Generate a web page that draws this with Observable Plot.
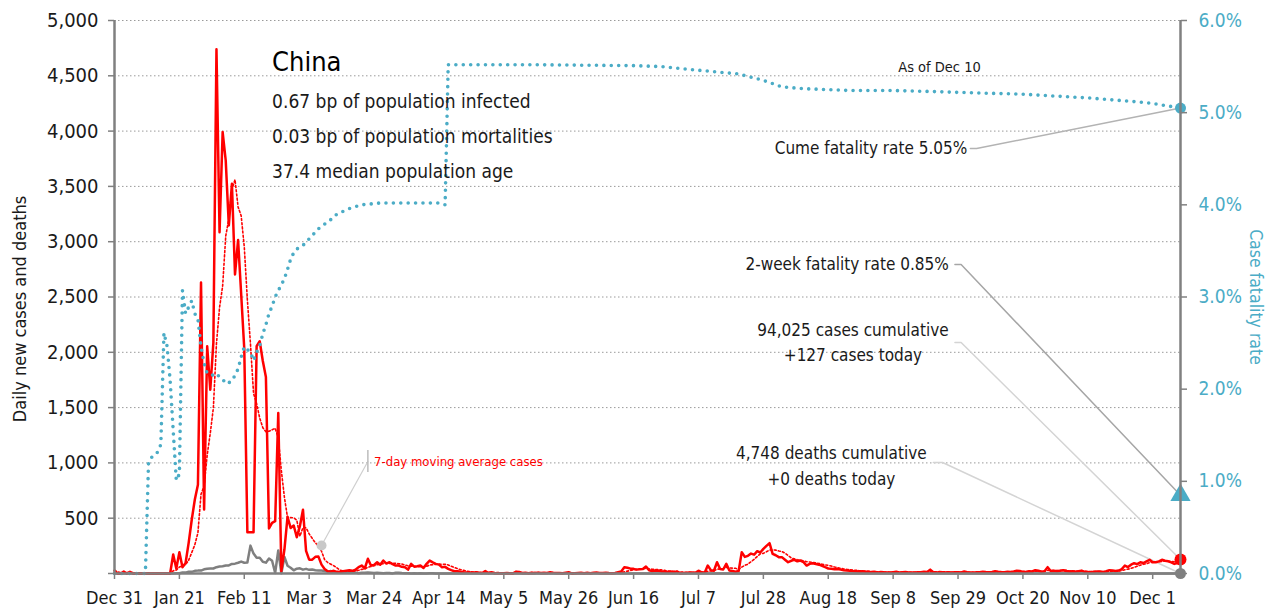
<!DOCTYPE html>
<html><head><meta charset="utf-8">
<script src="https://cdn.jsdelivr.net/npm/d3@7"></script>
<script src="https://cdn.jsdelivr.net/npm/@observablehq/plot@0.6"></script>
<style>body{margin:0;background:#fff}</style>
</head><body><div id="chart"></div>
<script>
// ---------- data ----------
const startDate = "2019-12-31";
const endDate = "2020-12-10";
// daily new cases, one value per day from Dec 31 2019
const casesJan = [27,0,0,17,0,15, 0,0,0,0,0,0,0,0,0,0,0,0,0, 172,45,193,57,95,277,486,669,802,2632,578,2054,1661];
const casesFeb = [2089,4739,3086,3991,3733,3147,3523,2704,3015,2525,2032,373,373,373,2055,2100,1921,1777,408,458,473,1451,21,219,513,412,434,328,428];
const casesMar = [576,204,125,125,151,153,80,40,20,19,24,15,14,20,25,29,24,34,58,72,46,133,72,78,102,80,117,90,102,85,72];
const casesApr = [72,60,57,35,87,62,65,72,50,87,117,100,87,80,57,60,42,30,20,20,15,12,10,10,8,12,6,5,22,4];
const casesMay = [12,2,3,2,2,4,2,1,17,14,5,7,3,7,4,8,5,6,4,11,6,5,4,3,7,11,1,2,4,6,2];
const casesJun = [6,3,6,8,5,5,6,4,3,4,11,18,57,52,44,42,35,38,40,63,30,22,28,25,19,17,14,19,12,19];
const casesJul = [3,5,5,8,8,7,25,11,7,72,30,25,102,40,36,87,27,22,16,22,193,150,160,180,170,202,190,223,250,274,178];
const casesAug = [165,148,148,125,102,115,124,110,117,102,72,87,93,85,80,70,57,45,42,38,40,35,30,28,25,22,20,18,20,16,15];
const casesSep = [12,15,10,14,11,10,9,12,15,10,12,14,9,8,10,12,11,16,13,35,12,8,14,11,9,12,10,11,12,10];
const casesOct = [18,12,10,8,12,11,15,13,12,14,20,16,13,12,15,13,18,24,22,15,14,20,18,30,25,16,20,57,22,24,20];
const casesNov = [25,30,22,18,20,17,20,26,15,14,12,16,18,18,14,20,30,27,22,27,40,72,58,80,93,85,102,95,110,124];
const casesDec = [102,102,110,124,115,110,100,87,95,127];
// daily new deaths from Dec 31 2019
const deathsJan = [0,0,0,0,0,0,0,0,0,0,0, 1,0,0,0,0,1,0,0,1,3,3,9,8,16,15,24,26,26,38,43,46];
const deathsFeb = [45,57,64,66,73,73,86,89,97,108,97,100,252,180,143,142,106,98,136,115,5,208,2,150,70,52,29,44,47];
const deathsMar = [35,42,33,36,30,28,27,22,17,22,11,7,13,10,14,13,11,8,3,7,6,9,7,4,6,5,3,5,4,1,7];
const deathsApr = [6,4,3,3,1,2,1,2,1,0,3,2,0,1,0,0,1,0,0,0,0,0,0,0,0,0,0,0,0,0];
const deathsLateDates = ["2020-05-31","2020-08-31","2020-10-31","2020-12-10"];
const deathsLate = [0,0,0,0];
// cumulative case fatality rate (%)
const cfrDates = ["2019-12-31","2020-01-10","2020-01-11","2020-01-12","2020-01-13","2020-01-14","2020-01-15","2020-01-16","2020-01-17","2020-01-18","2020-01-19","2020-01-20","2020-01-21","2020-01-22","2020-01-23","2020-01-24","2020-01-25","2020-01-26","2020-01-27","2020-01-28","2020-01-29","2020-01-30","2020-01-31","2020-02-01","2020-02-02","2020-02-03","2020-02-04","2020-02-05","2020-02-06","2020-02-07","2020-02-08","2020-02-09","2020-02-10","2020-02-11","2020-02-12","2020-02-13","2020-02-14","2020-02-15","2020-02-16","2020-02-17","2020-02-18","2020-02-19","2020-02-20","2020-02-21","2020-02-22","2020-02-23","2020-02-24","2020-02-25","2020-02-26","2020-02-27","2020-02-28","2020-03-01","2020-03-03","2020-03-06","2020-03-10","2020-03-12","2020-03-16","2020-03-20","2020-03-26","2020-04-14","2020-04-16","2020-04-17","2020-05-15","2020-06-16","2020-06-25","2020-07-07","2020-07-20","2020-07-28","2020-08-03","2020-08-10","2020-08-18","2020-08-25","2020-09-08","2020-09-20","2020-09-29","2020-10-20","2020-11-10","2020-11-25","2020-12-01","2020-12-10"];
const cfrPct = [0,0,1.19,1.26,1.28,1.32,1.40,2.61,2.47,2.10,1.55,1.01,1.08,3.07,2.82,2.89,2.96,2.82,2.76,2.46,2.28,2.17,2.16,2.15,2.17,2.13,2.11,2.06,2.07,2.09,2.15,2.22,2.35,2.46,2.43,2.40,2.31,2.40,2.47,2.60,2.70,2.82,2.90,3.00,3.07,3.13,3.20,3.30,3.41,3.48,3.52,3.56,3.63,3.74,3.84,3.90,3.96,4.00,4.02,4.02,4.00,5.52,5.52,5.51,5.50,5.46,5.42,5.35,5.28,5.26,5.25,5.24,5.24,5.23,5.22,5.20,5.16,5.12,5.10,5.05];
const twoWeekRate = 0.85;
const casesCumulative = 94025, deathsCumulative = 4748;
const xTicks = ["2019-12-31","2020-01-21","2020-02-11","2020-03-03","2020-03-24","2020-04-14","2020-05-05","2020-05-26","2020-06-16","2020-07-07","2020-07-28","2020-08-18","2020-09-08","2020-09-29","2020-10-20","2020-11-10","2020-12-01"];
const leftTicks = [0,500,1000,1500,2000,2500,3000,3500,4000,4500,5000];
const rightTicksPct = [0,1,2,3,4,5,6];
const infoLines = ["0.67 bp of population infected","0.03 bp of population mortalities","37.4 median population age"];

// ---------- build ----------
const parse = d3.utcParse("%Y-%m-%d");
const D = s => parse(s);
const t0 = parse(startDate), tEnd = parse(endDate);
const casesAll = [].concat(casesJan,casesFeb,casesMar,casesApr,casesMay,casesJun,casesJul,casesAug,casesSep,casesOct,casesNov,casesDec);
const deathsAll = [].concat(deathsJan,deathsFeb,deathsMar,deathsApr);
const daily = casesAll.map((v,i)=>({date:d3.utcDay.offset(t0,i), cases:v}));
const deaths = deathsAll.map((v,i)=>({date:d3.utcDay.offset(t0,i), deaths:v}))
  .concat(deathsLateDates.map((d,i)=>({date:parse(d), deaths:deathsLate[i]})));
const K = 5000/6; // % -> left-axis units
const cfr = cfrDates.map((d,i)=>({date:parse(d), y:cfrPct[i]*K}));
const lastCases = casesAll[casesAll.length-1];
const lastDeaths = deathsLate[deathsLate.length-1];
const lastCfr = cfrPct[cfrPct.length-1];

const font = "'Liberation Sans Narrow','DejaVu Sans Condensed','Arial Narrow',sans-serif";
const teal = "#4BACC6", red = "#FF0000", axisGray = "#808080", txt = "#1a1a1a";
const fmt = d3.format(",");

const chart = Plot.plot({
  width: 1273, height: 614,
  marginLeft: 114, marginRight: 93, marginTop: 20, marginBottom: 41,
  style: {fontFamily: font, fontSize: "18px", background: "#fff", color: txt},
  x: {type: "utc", domain: [t0, tEnd]},
  y: {domain: [0, 5000]},
  marks: [
    Plot.gridY({ticks: leftTicks.slice(1), stroke: "#9a9a9a", strokeOpacity: 1, strokeDasharray: "1.5,2.5", strokeWidth: 1}),
    // leaders
    Plot.line([{date:D("2020-10-03"),v:3843},{date:D("2020-10-05"),v:3843},{date:tEnd,v:lastCfr*K}], {x:"date", y:"v", stroke:"#b3b3b3", strokeWidth:1.5}),
    Plot.line([{date:D("2020-09-28"),v:2794},{date:D("2020-09-30"),v:2794},{date:tEnd,v:twoWeekRate*K}], {x:"date", y:"v", stroke:"#a6a6a6", strokeWidth:1.5}),
    Plot.line([{date:D("2020-09-28"),v:2089},{date:D("2020-09-30"),v:2089},{date:tEnd,v:lastCases}], {x:"date", y:"v", stroke:"#d4d4d4", strokeWidth:1.5}),
    Plot.line([{date:D("2020-09-21"),v:1004},{date:D("2020-09-24"),v:1004},{date:tEnd,v:lastDeaths}], {x:"date", y:"v", stroke:"#d4d4d4", strokeWidth:1.5}),
    Plot.line([{date:D("2020-03-07"),v:253},{date:D("2020-03-22"),v:1013}], {x:"date", y:"v", stroke:"#cfcfcf", strokeWidth:1.2}),
    Plot.ruleX([D("2020-03-22")], {y1: 913, y2: 1112, stroke: "#bdbdbd", strokeWidth: 1.5}),
    // series
    Plot.line(deaths, {x:"date", y:"deaths", stroke:"#7f7f7f", strokeWidth:2.5}),
    Plot.line(daily, {x:"date", y:"cases", stroke:red, strokeWidth:2.5}),
    Plot.lineY(daily, Plot.windowY({k:7, anchor:"end", reduce:"mean"}, {x:"date", y:"cases", stroke:red, strokeWidth:1.6, strokeDasharray:"2,2.2"})),
    Plot.line(cfr, {x:"date", y:"y", stroke:teal, strokeWidth:3.6, strokeLinecap:"round", strokeDasharray:"0,7.4"}),
    Plot.dot([{date:D("2020-03-07"), v:253}], {x:"date", y:"v", r:5, fill:"#c8c8c8"}),
    // end markers
    Plot.dot([{date:tEnd, v:lastCfr*K}], {x:"date", y:"v", r:5.5, fill:teal}),
    Plot.dot([{date:tEnd, v:twoWeekRate*K}], {x:"date", y:"v", symbol:"triangle", r:7.5, fill:teal}),
    Plot.dot([{date:tEnd, v:lastDeaths}], {x:"date", y:"v", r:5.5, fill:"#7f7f7f"}),
    Plot.dot([{date:tEnd, v:lastCases}], {x:"date", y:"v", r:6, fill:red}),
    // axis lines
    Plot.ruleY([0], {stroke: axisGray, strokeWidth: 2.5}),
    Plot.ruleX([t0], {stroke: axisGray, strokeWidth: 2.5}),
    Plot.ruleX([tEnd], {stroke: axisGray, strokeWidth: 2.5}),
    Plot.axisY({ticks: leftTicks, anchor: "left", tickSize: 6, tickPadding: 10, stroke: axisGray, strokeWidth: 1.5, fill: txt, fontSize: 20, tickFormat: d => d ? fmt(d) : "", label: null}),
    Plot.axisY({ticks: rightTicksPct.map(p => p*K), anchor: "right", tickSize: 6, tickPadding: 12, stroke: axisGray, strokeWidth: 1.5, fill: teal, fontSize: 19, tickFormat: d => (d/K).toFixed(1) + "%", label: null}),
    Plot.axisX({ticks: xTicks.map(parse), tickSize: 6, tickPadding: 12, stroke: axisGray, strokeWidth: 1.5, fill: txt, fontSize: 18, tickFormat: d3.utcFormat("%b %-d"), label: null}),
    Plot.text(["Daily new cases and deaths"], {frameAnchor: "left", textAnchor: "middle", dx: -94, dy: 12, rotate: -90, fontSize: 18, fill: txt}),
    Plot.text(["Case fatality rate"], {frameAnchor: "right", textAnchor: "middle", dx: 75, rotate: 90, fontSize: 17.5, fill: teal}),
    // annotations
    Plot.text(["China"], {x: D("2020-02-20"), y: 4620, textAnchor: "start", fontSize: 27, fill: "#000"}),
    Plot.text(infoLines, {x: () => D("2020-02-20"), y: (d,i) => 4268 - i*316.5, textAnchor: "start", fontSize: 19, fill: txt}),
    Plot.text(["As of " + d3.utcFormat("%b %-d")(tEnd)], {x: D("2020-09-23"), y: 4575, fontSize: 14.5, fill: txt}),
    Plot.text(["Cume fatality rate " + lastCfr.toFixed(2) + "%"], {x: D("2020-10-02"), y: 3843, textAnchor: "end", fontSize: 17, fill: txt}),
    Plot.text(["2-week fatality rate " + twoWeekRate.toFixed(2) + "%"], {x: D("2020-09-26"), y: 2794, textAnchor: "end", fontSize: 17, fill: txt}),
    Plot.text([fmt(casesCumulative) + " cases cumulative", "+" + lastCases + " cases today"], {x: () => D("2020-08-26"), y: (d,i) => 2197 - i*226, fontSize: 17, fill: txt}),
    Plot.text([fmt(deathsCumulative) + " deaths cumulative", "+" + lastDeaths + " deaths today"], {x: () => D("2020-08-19"), y: (d,i) => 1085 - i*235, fontSize: 17, fill: txt}),
    Plot.text(["7-day moving average cases"], {x: D("2020-03-24"), y: 1013, textAnchor: "start", fontSize: 13, fill: red})
  ]
});
document.getElementById("chart").appendChild(chart);
</script>
</body></html>
